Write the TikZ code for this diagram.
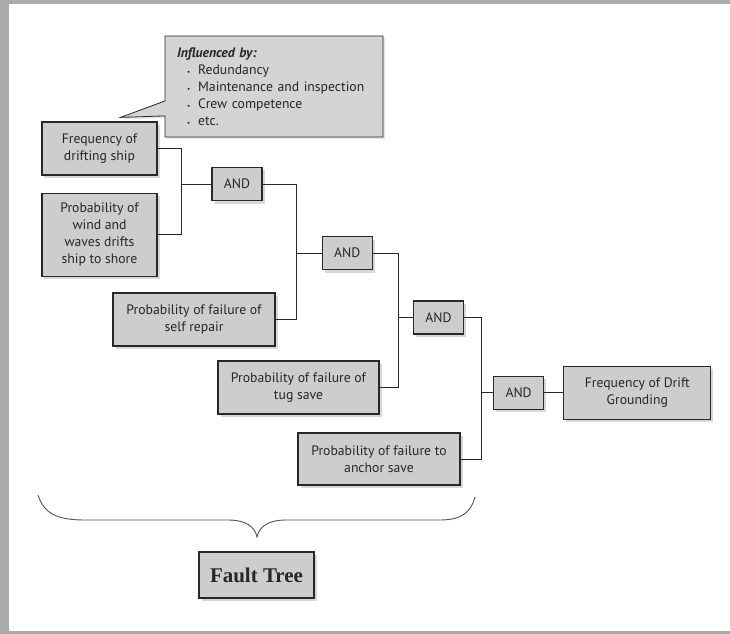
\documentclass[tikz,border=0pt]{standalone}
\usepackage{fontspec}
\setmainfont{PT Sans}
\newfontfamily\titlefont{Liberation Serif}
\usepackage{xcolor}
\usetikzlibrary{positioning, calc, shapes.callouts, shadows}
\definecolor{boxgray}{RGB}{205, 205, 205}
\definecolor{notegray}{RGB}{212, 212, 212}
\definecolor{edgegray}{RGB}{40, 40, 40}
\definecolor{framegray}{RGB}{170, 170, 170}
\newcommand{\itm}{\hspace*{10bp}{\scriptsize\textbullet}\hspace{8bp}}

\begin{document}
\begin{tikzpicture}[
    x=1bp, y=-1bp,
    every node/.style={font=\fontsize{13.75}{17}\selectfont, text=black!85},
    event/.style={rectangle, draw=edgegray, fill=boxgray, line width=1.2bp, align=center,
                  inner sep=3bp, minimum width=162bp, minimum height=53bp,
                  drop shadow={shadow xshift=2.5bp, shadow yshift=-3bp, opacity=0.3}},
    gate/.style={event, minimum width=50bp, minimum height=33bp},
    note/.style={rectangle callout, draw=edgegray, fill=notegray, line width=0.8bp,
                 align=left, text width=194bp, inner xsep=12bp, minimum height=101bp,
                 callout pointer width=15bp,
                 drop shadow={shadow xshift=2bp, shadow yshift=-2bp, opacity=0.2}},
    title/.style={event, minimum width=115bp, minimum height=46bp,
                  font=\titlefont\fontsize{21}{24}\selectfont\bfseries},
    link/.style={draw=edgegray, line width=0.9bp},
]
    \useasboundingbox (0,0) rectangle (730,634);
    \fill[framegray] (0,0) rectangle (730,634);
    \fill[white] (9,4) rectangle (730,631);

    % Basic events, top to bottom
    \node[event, minimum width=115bp] (freq) at (99.5,148.5) {Frequency of\\drifting ship};
    \node[event, minimum width=115bp, minimum height=83bp, below=17bp of freq] (wind)
        {Probability of\\wind and\\waves drifts\\ship to shore};
    \node[event] (repair) at (194,319.5) {Probability of failure of\\self repair};
    \node[event, minimum width=161bp] (tug) at (298.5,387.5) {Probability of failure of\\tug save};
    \node[event, minimum height=52bp] (anchor) at (379,459) {Probability of failure to\\anchor save};

    % AND gates stepping down to the right
    \node[gate] (and1) at (237,184) {AND};
    \node[gate, below right=35bp and 59bp of and1] (and2) {AND};
    \node[gate, below right=30bp and 40bp of and2] (and3) {AND};
    \node[gate, below right=41bp and 29bp of and3] (and4) {AND};
    \node[event, minimum width=147bp, right=19bp of and4] (top) {Frequency of Drift\\Grounding};

    % Callout on the first event
    \coordinate (tip) at ($(freq.north east)+(-37,-4)$);
    \node[note, callout absolute pointer={(tip)}] (infl) at (274,86.5)
        {{\bfseries\itshape Influenced by:}\\
         \itm Redundancy\\
         \itm Maintenance and inspection\\
         \itm Crew competence\\
         \itm etc.};

    % Junctions
    \coordinate (j1) at ($(and1.west)+(-30,0)$);
    \coordinate (j2) at ($(and2.west)+(-25,0)$);
    \coordinate (j3) at ($(and3.west)+(-14,0)$);
    \coordinate (j4) at ($(and4.west)+(-12,0)$);

    \draw[link] (freq.east) -| (j1) |- (wind.east);
    \draw[link] (j1) -- (and1.west);

    \draw[link] (and1.east) -| (j2) |- (repair.east);
    \draw[link] (j2) -- (and2.west);

    \draw[link] (and2.east) -| (j3) |- (tug.east);
    \draw[link] (j3) -- (and3.west);

    \draw[link] (and3.east) -| (j4) |- (anchor.east);
    \draw[link] (j4) -- (and4.west);

    \draw[link] (and4.east) -- (top.west);

    % Brace over the fault tree
    \draw[edgegray!80, line width=0.9bp] (38,495) .. controls (44,514) and (58,520) .. (85,520)
        -- (228,520) .. controls (246,520) and (255,527) .. (257,537)
        .. controls (259,527) and (268,520) .. (286,520)
        -- (440,520) .. controls (462,520) and (471,512) .. (475,497);
    \node[title] (ft) at (256.5,575) {Fault Tree};
\end{tikzpicture}
\end{document}
